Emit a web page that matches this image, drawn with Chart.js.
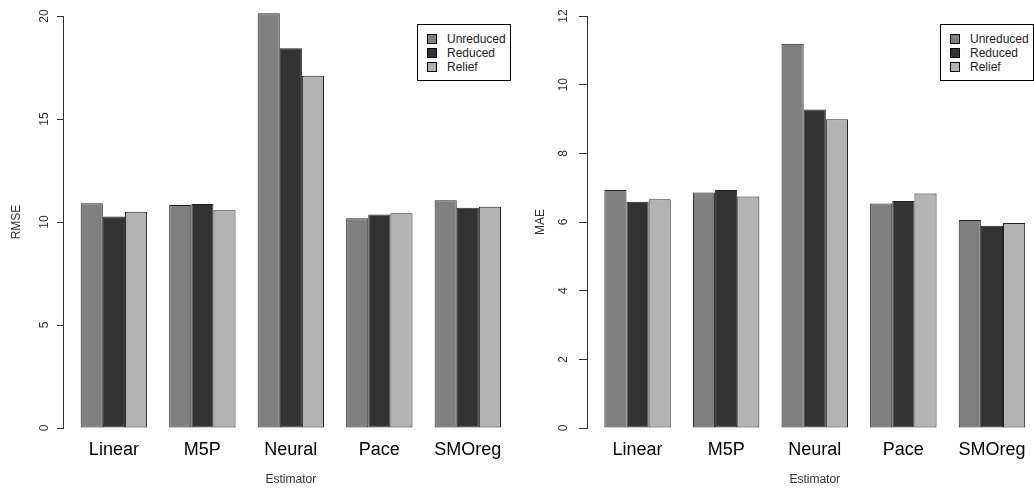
<!DOCTYPE html>
<html>
<head>
<meta charset="utf-8">
<script src="https://cdn.jsdelivr.net/npm/chart.js@4.4.1/dist/chart.umd.min.js"></script>
<style>
  html, body { margin: 0; padding: 0; background: #fff; }
  body { width: 1034px; height: 489px; position: relative; overflow: hidden; font-family: 'Liberation Sans', Arial, sans-serif; }
  canvas { position: absolute; top: 0; }
  #rmseChart { left: 0; }
  #maeChart { left: 517px; }
  .legend { position: absolute; top: 24px; width: 94px; height: 57px; border: 1px solid #000; background: #fff; box-sizing: border-box; padding-top: 7px; }
  .legend div { height: 14px; line-height: 14px; font-size: 12px; color: #222; position: relative; padding-left: 29px; }
  .legend span { position: absolute; left: 9px; top: 2px; width: 8px; height: 8px; border: 1px solid #000; }
</style>
</head>
<body>
<canvas id="rmseChart" width="522" height="489"></canvas>
<canvas id="maeChart" width="530" height="489"></canvas>
<div class="legend" id="rmseLegend" style="left:417px"></div>
<div class="legend" id="maeLegend" style="left:940px"></div>
<script>
const categories = ['Linear', 'M5P', 'Neural', 'Pace', 'SMOreg'];
const seriesNames = ['Unreduced', 'Reduced', 'Relief'];
const seriesColors = ['#808080', '#333333', '#b3b3b3'];

const rmseUnreduced = [10.91, 10.83, 20.13, 10.18, 11.05];
const rmseReduced   = [10.27, 10.87, 18.43, 10.37, 10.69];
const rmseRelief    = [10.50, 10.57, 17.10, 10.42, 10.74];

const maeUnreduced = [6.93, 6.86, 11.19, 6.54, 6.06];
const maeReduced   = [6.59, 6.93, 9.28, 6.61, 5.89];
const maeRelief    = [6.66, 6.74, 8.99, 6.83, 5.97];

const rmseTicks = [0, 5, 10, 15, 20];
const maeTicks = [0, 2, 4, 6, 8, 10, 12];

const FONT = "'Liberation Sans', Arial, sans-serif";

// one barplot panel, R style: axis line only over the tick range, groups with a bar-wide gap
function makeChart(canvasId, yTitle, series, yTicks, cfg) {
  const ctx = document.getElementById(canvasId).getContext('2d');
  return new Chart(ctx, {
    type: 'bar',
    data: {
      datasets: series.map((vals, k) => ({
        label: seriesNames[k],
        data: vals.map((v, i) => ({ x: i, y: v })),
        backgroundColor: seriesColors[k],
        borderColor: '#222',
        borderWidth: 1,
        borderSkipped: false,
        clip: false
      }))
    },
    options: {
      responsive: false,
      animation: false,
      layout: { padding: { top: 16, right: cfg.padRight, bottom: 0, left: 0 } },
      plugins: { legend: { display: false }, tooltip: { enabled: false } },
      datasets: { bar: { categoryPercentage: 0.75, barPercentage: 1 } },
      scales: {
        x: {
          type: 'linear',
          offset: false,
          min: -0.565,
          max: 4.565,
          grid: { display: false, drawTicks: false },
          border: { display: false },
          afterBuildTicks: s => { s.ticks = categories.map((c, i) => ({ value: i })); },
          afterFit: s => { s.height = 61; },
          ticks: {
            autoSkip: false, maxRotation: 0, padding: 11,
            font: { family: FONT, size: 18 }, color: '#000',
            callback: v => categories[v]
          },
          title: {
            display: true, text: 'Estimator',
            font: { family: FONT, size: 12 }, color: '#333',
            padding: { top: 0, bottom: 2 }
          }
        },
        y: {
          min: 0,
          max: yTicks[yTicks.length - 1],
          afterBuildTicks: s => { s.ticks = yTicks.map(v => ({ value: v })); },
          afterFit: s => { s.width = cfg.axisLeft; },
          grid: { drawOnChartArea: false, tickLength: cfg.tickLen, color: '#333' },
          border: { color: '#333' },
          ticks: {
            minRotation: 90, maxRotation: 90, crossAlign: 'center', padding: cfg.tickPad,
            font: { family: FONT, size: 12 }, color: '#333'
          },
          title: {
            display: true, text: yTitle,
            font: { family: FONT, size: 12 }, color: '#333',
            padding: { top: cfg.titlePad, bottom: 0 }
          }
        }
      }
    }
  });
}

function buildLegend(id) {
  const box = document.getElementById(id);
  seriesNames.forEach((name, k) => {
    const row = document.createElement('div');
    const sw = document.createElement('span');
    sw.style.background = seriesColors[k];
    row.appendChild(sw);
    row.appendChild(document.createTextNode(name));
    box.appendChild(row);
  });
}

makeChart('rmseChart', 'RMSE', [rmseUnreduced, rmseReduced, rmseRelief], rmseTicks,
  { axisLeft: 63.9, padRight: 4.2, tickLen: 7, tickPad: 5.8, titlePad: 9.5 });
makeChart('maeChart', 'MAE', [maeUnreduced, maeReduced, maeRelief], maeTicks,
  { axisLeft: 70.5, padRight: 5, tickLen: 8.5, tickPad: 8.8, titlePad: 16.1 });

buildLegend('rmseLegend');
buildLegend('maeLegend');
</script>
</body>
</html>
